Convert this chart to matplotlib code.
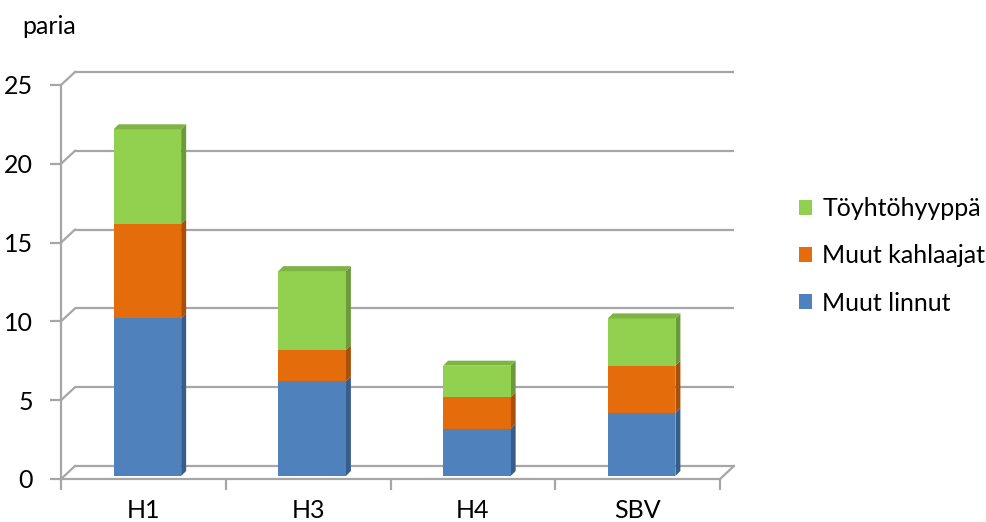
import numpy as np
import matplotlib.pyplot as plt
from matplotlib.patches import Polygon, Patch
from matplotlib.transforms import blended_transform_factory

plt.rcParams['font.family'] = ['Lato', 'DejaVu Sans']

sites = ['H1', 'H3', 'H4', 'SBV']
muut_linnut = [10, 6, 3, 4]
muut_kahlaajat = [6, 2, 2, 3]
toyhtohyyppa = [6, 5, 2, 3]

series = [
    ('Muut linnut', muut_linnut, '#4F81BD', '#385D8A', '#4672AA'),
    ('Muut kahlaajat', muut_kahlaajat, '#E46C0A', '#A8500A', '#C65E0A'),
    ('Töyhtöhyyppä', toyhtohyyppa, '#92D050', '#6A9A3A', '#7FB445'),
]

grid_col = '#A6A6A6'
fs = 18

fig = plt.figure(figsize=(9.86, 5.22), dpi=100)
W, H = 986, 522
ax = fig.add_axes([61 / W, 1 - 479 / H, (720 - 61) / W, (479 - 85) / H])
ax.set_xlim(-0.5, len(sites) - 0.5)
ax.set_ylim(0, 25)
for s in ax.spines.values():
    s.set_visible(False)

# pixel -> data unit conversion for the fake depth
p0 = ax.transData.transform((0, 0))
p1 = ax.transData.transform((1, 1))
ux = 1 / (p1[0] - p0[0])
uy = 1 / (p1[1] - p0[1])

# back wall / floor depth offset
bx, by = 14 * ux, 13 * uy
x0, x1 = -0.5, len(sites) - 0.5
yticks = np.arange(0, 26, 5)
for yv in yticks:
    ax.plot([x0 + bx, x1 + bx], [yv + by, yv + by], color=grid_col, lw=1.6,
            zorder=1, clip_on=False, solid_capstyle='butt')
    ax.plot([x0, x0 + bx], [yv, yv + by], color=grid_col, lw=1.6,
            zorder=1, clip_on=False)
ax.plot([x1, x1 + bx], [0, by], color=grid_col, lw=1.6, zorder=1, clip_on=False)
# front floor edge and value axis
ax.plot([x0, x1], [0, 0], color=grid_col, lw=1.6, zorder=4, clip_on=False)
ax.plot([x0, x0], [0, 25], color=grid_col, lw=1.6, zorder=4, clip_on=False)

# stacked bars, set a little in from the front plane
fx, fy = 4 * ux, 3 * uy
dx, dy = 5 * ux, 5 * uy
w = 0.41
x = np.arange(len(sites))
bottom = np.zeros(len(sites))
for si, (name, vals, face, side, top) in enumerate(series):
    vals = np.array(vals, dtype=float)
    for i in range(len(sites)):
        xl = x[i] - w / 2 + fx
        xr = x[i] + w / 2 + fx
        b = bottom[i] + fy
        t = bottom[i] + vals[i] + fy
        ax.add_patch(Polygon([(xr, b), (xr + dx, b + dy), (xr + dx, t + dy), (xr, t)],
                             closed=True, facecolor=side, edgecolor='none',
                             zorder=2, clip_on=False))
        ax.add_patch(Polygon([(xl, b), (xr, b), (xr, t), (xl, t)], closed=True,
                             facecolor=face, edgecolor='none', zorder=3, clip_on=False))
        if si == len(series) - 1:
            ax.add_patch(Polygon([(xl, t), (xr, t), (xr + dx, t + dy), (xl + dx, t + dy)],
                                 closed=True, facecolor=top, edgecolor='none',
                                 zorder=3, clip_on=False))
    bottom += vals

# axis ticks
ax.set_yticks(yticks)
ax.set_yticklabels([str(v) for v in yticks], fontsize=fs)
ax.tick_params(axis='y', length=8, width=1.6, color=grid_col, pad=12)
ax.set_xticks(np.arange(-0.5, len(sites), 1.0))
ax.set_xticklabels([])
ax.tick_params(axis='x', which='major', length=8, width=1.6, color=grid_col)

# category labels sit just above the bottom edge
lab_tr = blended_transform_factory(ax.transData, fig.transFigure)
for xi, name in zip(x, sites):
    ax.text(xi, 1 - 518 / H, name, transform=lab_tr, fontsize=fs,
            ha='center', va='baseline')

fig.text(22 / W, 1 - 27 / H, 'paria', fontsize=fs, va='center', ha='left')

handles = [Patch(facecolor=s[2], edgecolor='none', label=s[0]) for s in series[::-1]]
fig.legend(handles=handles, loc='center left', bbox_to_anchor=(776 / W, 1 - 256 / H),
           frameon=False, fontsize=fs, handlelength=0.55, handleheight=0.55,
           handletextpad=0.4, labelspacing=0.97)

fig.savefig('out.png', dpi=100)
